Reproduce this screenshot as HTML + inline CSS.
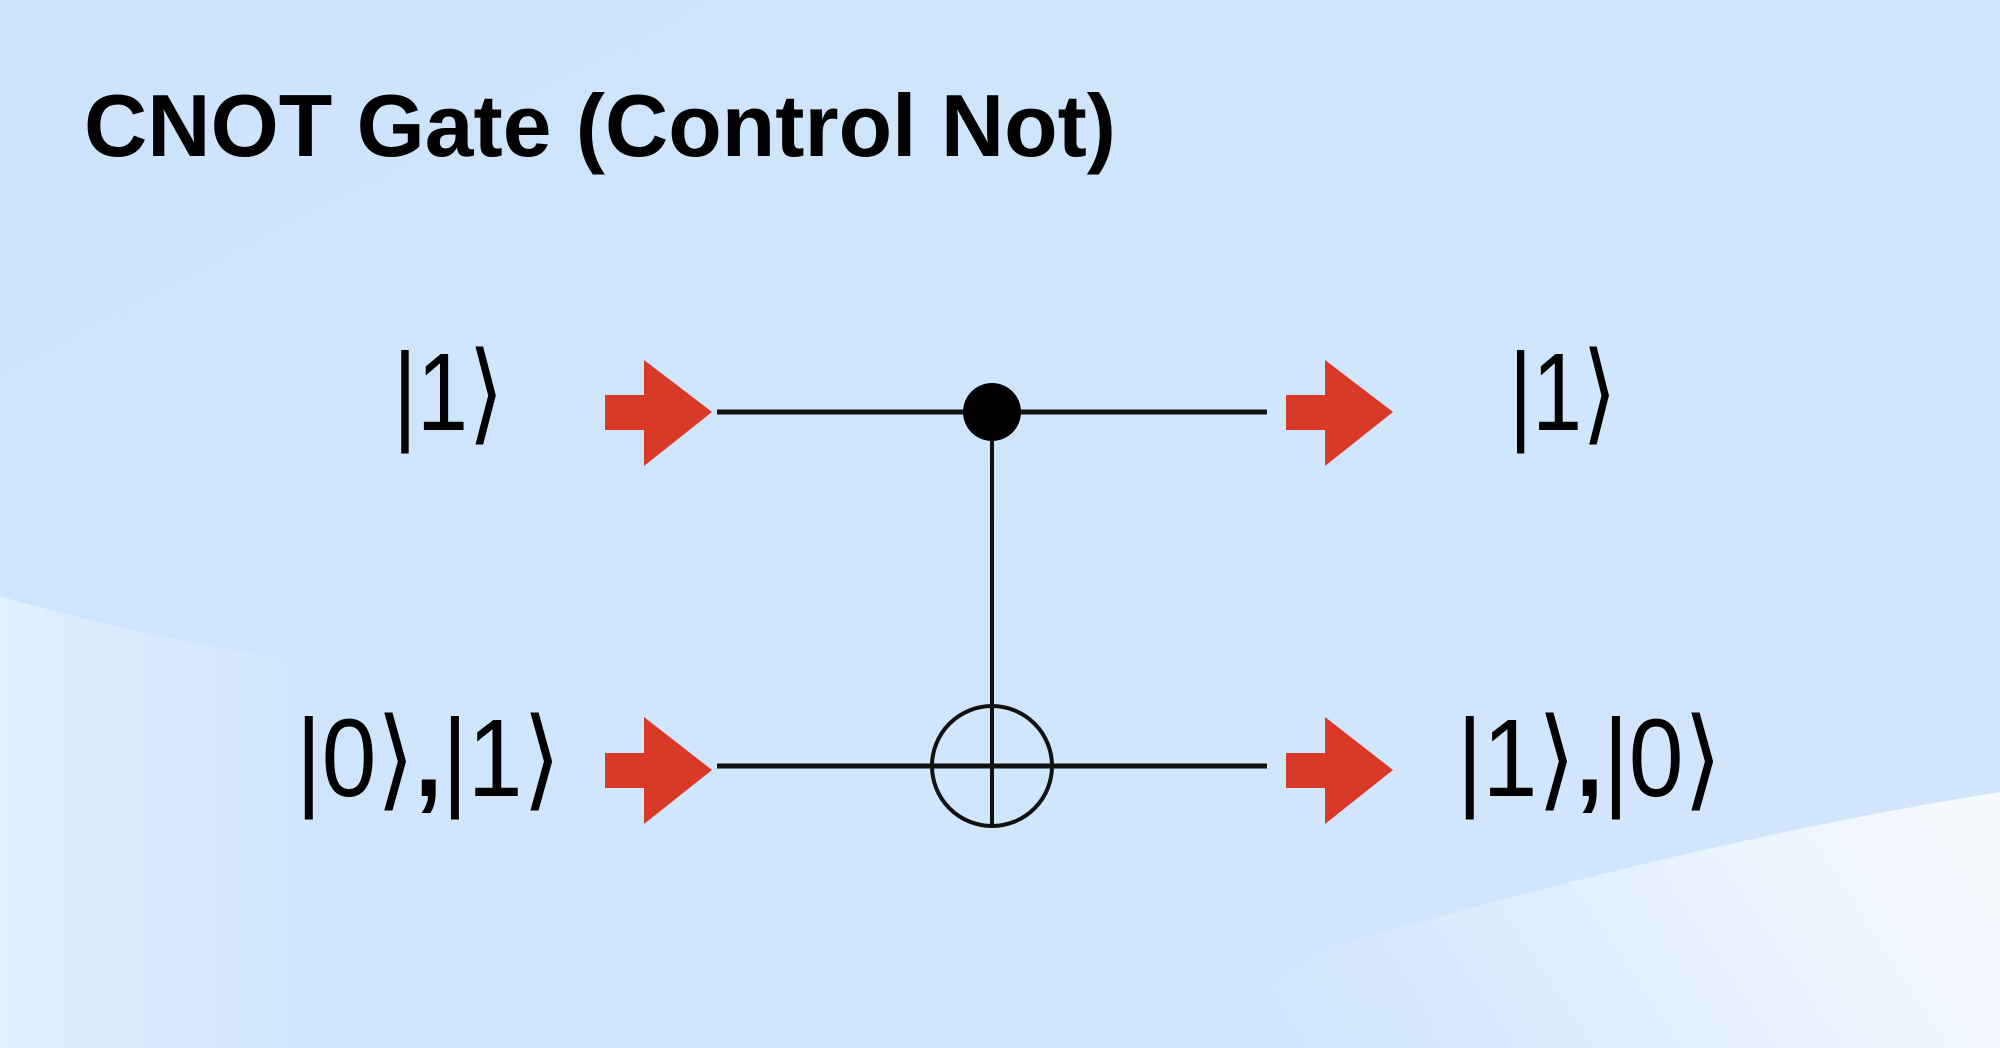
<!DOCTYPE html>
<html><head><meta charset="utf-8"><style>
html,body{margin:0;padding:0;width:2000px;height:1048px;overflow:hidden;background:#cfe5fd}
svg{display:block}
</style></head><body>
<svg width="2000" height="1048" viewBox="0 0 2000 1048" xmlns="http://www.w3.org/2000/svg">
<defs>
<linearGradient id="bg" x1="0" y1="0" x2="1" y2="1">
<stop offset="0" stop-color="#cde4fc"/><stop offset="1" stop-color="#d2e7fd"/>
</linearGradient>
<linearGradient id="wl" x1="0" y1="0" x2="1" y2="0">
<stop offset="0" stop-color="#e2effd"/><stop offset="1" stop-color="#cfe5fd"/>
</linearGradient>
<linearGradient id="wr" x1="0" y1="0.6" x2="1" y2="0.4">
<stop offset="0" stop-color="#cfe5fd" stop-opacity="0"/><stop offset="0.35" stop-color="#dcebfd"/><stop offset="1" stop-color="#f6f9fe"/>
</linearGradient>
</defs>
<rect width="2000" height="1048" fill="url(#bg)"/>
<path d="M0 596 Q150 640 330 665 L330 1048 L0 1048 Z" fill="url(#wl)"/>
<path d="M2000 792 Q1700 840 1340 945 Q1250 990 1160 1048 L2000 1048 Z" fill="url(#wr)"/>
<text x="84" y="156" font-family="Liberation Sans, sans-serif" font-weight="bold" font-size="88" textLength="1032" lengthAdjust="spacingAndGlyphs" fill="#000">CNOT Gate (Control Not)</text>

<line x1="717" y1="412" x2="1267" y2="412" stroke="#111" stroke-width="5"/>
<line x1="717" y1="766" x2="1267" y2="766" stroke="#111" stroke-width="5"/>
<line x1="992" y1="412" x2="992" y2="826" stroke="#111" stroke-width="4"/>
<circle cx="992" cy="412" r="29" fill="#000"/>
<circle cx="992" cy="766" r="60" fill="none" stroke="#111" stroke-width="4"/>

<g fill="#d93a27">
<path d="M605 395 H644 V360 L712 412 L644 466 V430 H605 Z"/>
<path d="M1286 395 H1325 V360 L1393 412 L1325 466 V430 H1286 Z"/>
<path d="M605 753 H644 V717 L712 770 L644 824 V788 H605 Z"/>
<path d="M1286 753 H1325 V717 L1393 770 L1325 824 V788 H1286 Z"/>
</g>

<g font-family="Liberation Sans, DejaVu Sans, sans-serif" font-size="110" fill="#000">
<text x="393" y="430" textLength="111" lengthAdjust="spacingAndGlyphs">|1⟩</text>
<text x="1509" y="430" textLength="108" lengthAdjust="spacingAndGlyphs">|1⟩</text>
<text x="296" y="796" textLength="265" lengthAdjust="spacingAndGlyphs">|0⟩<tspan font-weight="bold">,</tspan>|1⟩</text>
<text x="1457" y="796" textLength="265" lengthAdjust="spacingAndGlyphs">|1⟩<tspan font-weight="bold">,</tspan>|0⟩</text>
</g>
</svg>
</body></html>
